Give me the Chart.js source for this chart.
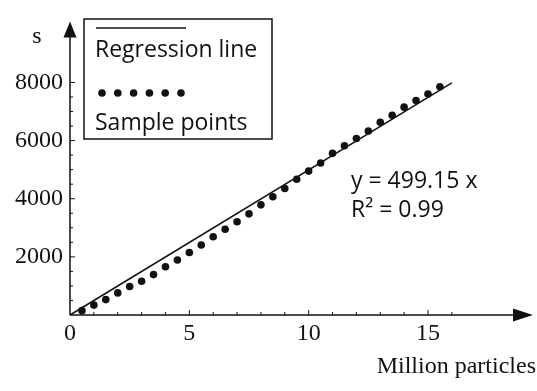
<!DOCTYPE html>
<html>
<head>
<meta charset="utf-8">
<script src="https://cdn.jsdelivr.net/npm/chart.js@4.4.0/dist/chart.umd.min.js"></script>
<style>
    html, body { margin: 0; padding: 0; background: #fff; }
</style>
</head>
<body>
<canvas id="grafico" width="537" height="391"></canvas>
<script>
// Datos
const puntosX = [0.5, 1, 1.5, 2, 2.5, 3, 3.5, 4, 4.5, 5, 5.5, 6, 6.5, 7, 7.5, 8,
                 8.5, 9, 9.5, 10, 10.5, 11, 11.5, 12, 12.5, 13, 13.5, 14, 14.5, 15, 15.5];
const puntosY = [150, 340, 530, 760, 980, 1160, 1390, 1660, 1890, 2150, 2410, 2690, 2950, 3210, 3480, 3790,
                 4070, 4350, 4670, 4950, 5230, 5560, 5820, 6070, 6330, 6630, 6870, 7150, 7380, 7600, 7850];
const lineaX = [0, 16];
const lineaY = [0, 7986];
const ticksX = [0, 5, 10, 15];
const ticksY = [2000, 4000, 6000, 8000];
const menoresX = [1, 2, 3, 4, 5, 6, 7, 8, 9, 10, 11, 12, 13, 14, 15, 16];
const menoresY = [500, 1000, 1500, 2000, 2500, 3000, 3500, 4000, 4500, 5000, 5500, 6000, 6500, 7000, 7500, 8000];
const leyenda = ['Regression line', 'Sample points'];
const ecuacion = ['y = 499.15 x', 'R² = 0.99'];
const tituloX = 'Million particles';
const tituloY = 's';

const serif = '"Liberation Serif", "DejaVu Serif", serif';
const sans = '"Open Sans", "Noto Sans", sans-serif';

// Ejes con flechas, marcas menores, leyenda y textos
const decoracion = {
    id: 'decoracion',
    afterDraw(chart) {
        const ctx = chart.ctx;
        const area = chart.chartArea;
        const sx = chart.scales.x;
        const sy = chart.scales.y;
        const x0 = sx.getPixelForValue(0);
        const y0 = sy.getPixelForValue(0);
        ctx.save();
        ctx.strokeStyle = '#111';
        ctx.fillStyle = '#111';
        ctx.lineWidth = 1.5;

        // ejes
        ctx.beginPath();
        ctx.moveTo(x0, y0);
        ctx.lineTo(area.right - 15, y0);
        ctx.moveTo(x0, y0);
        ctx.lineTo(x0, area.top + 12);
        ctx.stroke();

        // flechas
        ctx.beginPath();
        ctx.moveTo(area.right, y0);
        ctx.lineTo(area.right - 20, y0 - 6.5);
        ctx.lineTo(area.right - 20, y0 + 6.5);
        ctx.closePath();
        ctx.fill();
        ctx.beginPath();
        ctx.moveTo(x0, area.top);
        ctx.lineTo(x0 - 6.5, area.top + 16);
        ctx.lineTo(x0 + 6.5, area.top + 16);
        ctx.closePath();
        ctx.fill();

        // marcas
        ctx.lineWidth = 1;
        ctx.beginPath();
        menoresX.forEach(v => {
            const px = sx.getPixelForValue(v);
            const largo = ticksX.includes(v) ? 5 : 3;
            ctx.moveTo(px, y0);
            ctx.lineTo(px, y0 - largo);
        });
        menoresY.forEach(v => {
            const py = sy.getPixelForValue(v);
            const largo = ticksY.includes(v) ? 5 : 3;
            ctx.moveTo(x0, py);
            ctx.lineTo(x0 + largo, py);
        });
        ctx.stroke();

        // leyenda
        ctx.lineWidth = 1.5;
        ctx.strokeRect(84, 19, 188, 120);
        ctx.beginPath();
        ctx.moveTo(96, 28);
        ctx.lineTo(186, 28);
        ctx.stroke();
        for (let i = 0; i < 6; i++) {
            ctx.beginPath();
            ctx.arc(102 + i * 15.8, 93, 3.8, 0, Math.PI * 2);
            ctx.fill();
        }
        ctx.font = '23px ' + sans;
        ctx.textAlign = 'left';
        ctx.textBaseline = 'alphabetic';
        ctx.fillText(leyenda[0], 95, 57);
        ctx.fillText(leyenda[1], 95, 130);

        // ecuación
        ctx.fillText(ecuacion[0], 351, 188);
        ctx.fillText(ecuacion[1], 351, 217);

        // títulos de ejes
        ctx.font = '24px ' + serif;
        ctx.textAlign = 'center';
        ctx.fillText(tituloY, 37, 43);
        ctx.textAlign = 'right';
        ctx.fillText(tituloX, 536, 373);
        ctx.restore();
    }
};

const ctx = document.getElementById('grafico').getContext('2d');

new Chart(ctx, {
    type: 'scatter',
    data: {
        datasets: [{
            label: leyenda[0],
            data: lineaX.map((x, i) => ({ x: x, y: lineaY[i] })),
            showLine: true,
            borderColor: '#111',
            borderWidth: 1.5,
            pointRadius: 0
        }, {
            label: leyenda[1],
            data: puntosX.map((x, i) => ({ x: x, y: puntosY[i] })),
            showLine: false,
            backgroundColor: '#111',
            borderColor: '#111',
            borderWidth: 0,
            pointRadius: 3.8
        }]
    },
    options: {
        responsive: false,
        animation: false,
        clip: false,
        layout: { padding: { top: 17, right: 4, left: 0, bottom: 0 } },
        plugins: {
            legend: { display: false },
            tooltip: { enabled: false }
        },
        scales: {
            x: {
                type: 'linear',
                min: 0,
                max: 19.4,
                grid: { display: false, drawTicks: false },
                border: { display: false },
                afterBuildTicks: s => { s.ticks = ticksX.map(v => ({ value: v })); },
                afterFit: s => { s.height = 76; },
                ticks: {
                    padding: 4,
                    color: '#111',
                    font: { family: serif, size: 24 },
                    callback: v => String(v)
                }
            },
            y: {
                type: 'linear',
                min: 0,
                max: 10100,
                grid: { display: false, drawTicks: false },
                border: { display: false },
                afterBuildTicks: s => { s.ticks = ticksY.map(v => ({ value: v })); },
                afterFit: s => { s.width = 70; },
                ticks: {
                    padding: 7,
                    color: '#111',
                    font: { family: serif, size: 24 },
                    callback: v => String(v)
                }
            }
        }
    },
    plugins: [decoracion]
});
</script>
</body>
</html>
